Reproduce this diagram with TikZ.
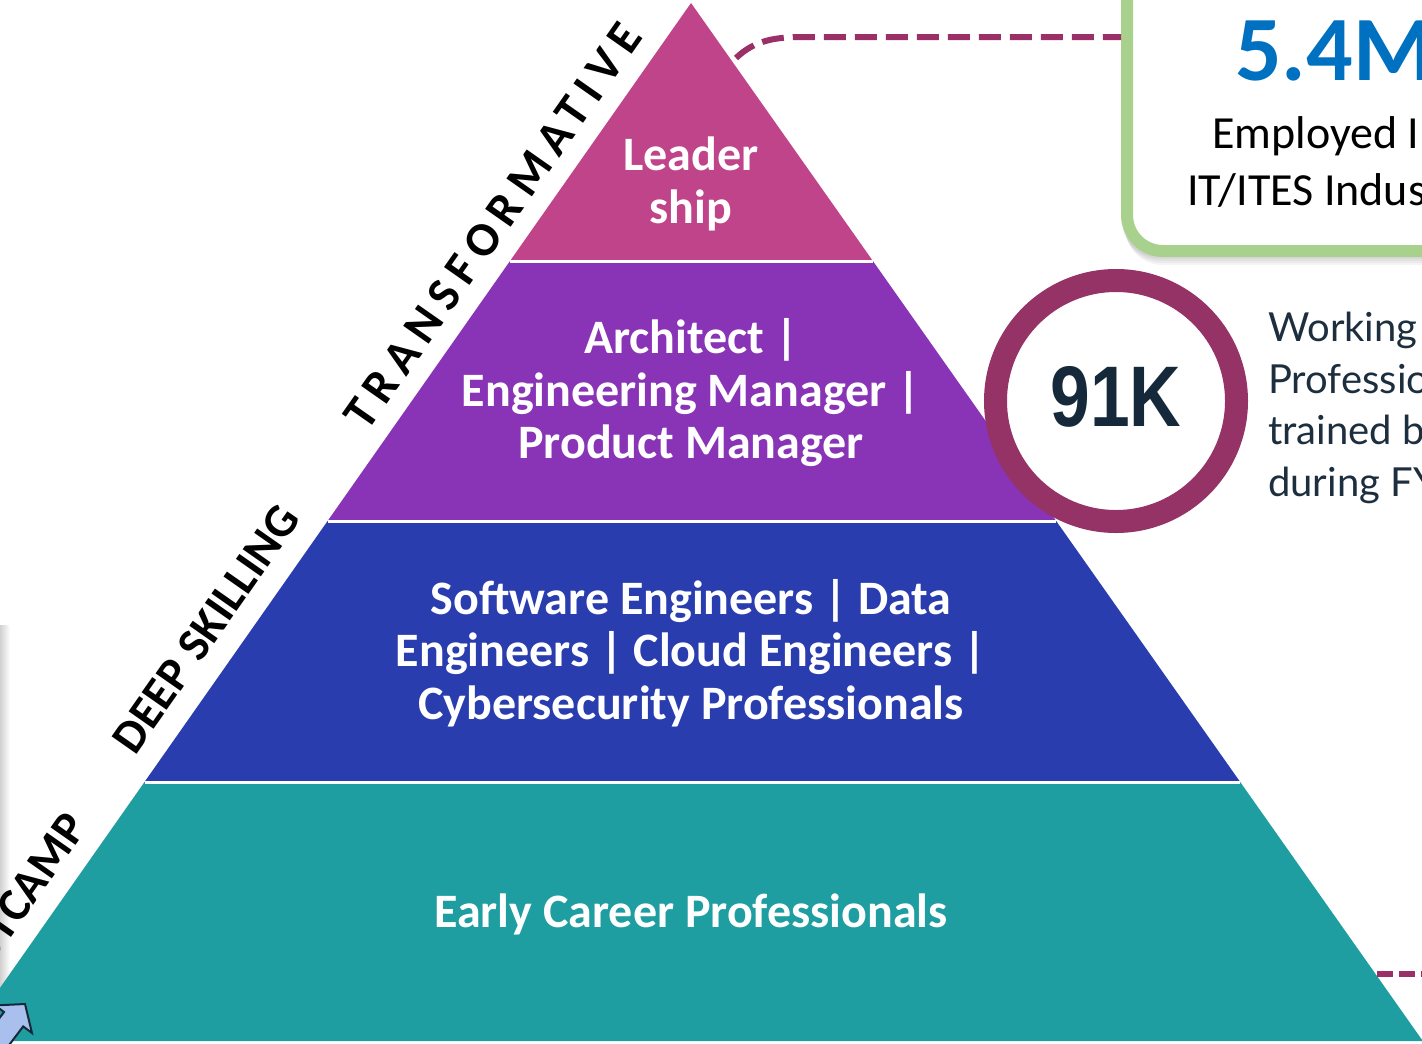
\documentclass[tikz,border=0pt]{standalone}
\usepackage{fontspec}
\setmainfont{Carlito}
\newfontfamily\widefont[LetterSpace=18]{Carlito}
\newfontfamily\edgefont[LetterSpace=1]{Carlito}
\newfontfamily\ringfont{Liberation Sans}
\newfontfamily\notefont{Lato}
\definecolor{cLead}{HTML}{C0448A}
\definecolor{cArch}{HTML}{8934B6}
\definecolor{cSoft}{HTML}{2A3DAF}
\definecolor{cEarly}{HTML}{1F9EA2}
\definecolor{cRing}{HTML}{953266}
\definecolor{cDash}{HTML}{9A3067}
\definecolor{cBox}{HTML}{A9D18E}
\definecolor{cBig}{HTML}{0070C0}
\definecolor{cNum}{HTML}{15293A}
\definecolor{cNote}{HTML}{1D2F3F}
\definecolor{cArrow}{HTML}{A9BFEE}
\begin{document}
\begin{tikzpicture}[x=1pt,y=-1pt,
  layer/.style={align=center,text=white,font=\fontsize{48}{52.5}\selectfont\bfseries},
  edgelbl/.style={rotate=55,inner sep=0pt},
  sep/.style={white,line width=3pt},
  dashline/.style={cDash,line width=6pt}]
  \useasboundingbox (0,0) rectangle (1422,1044);
  \clip (0,0) rectangle (1422,1044);
  \shade[left color=black!18,right color=white] (0,625) rectangle (10,1000);
  \coordinate (apex) at (691,3);
  \coordinate (l1) at (510,261);   \coordinate (r1) at (872.9,261);
  \coordinate (l2) at (327.6,521); \coordinate (r2) at (1056.2,521);
  \coordinate (l3) at (144.5,782); \coordinate (r3) at (1240.2,782);
  \coordinate (l4) at (-37.3,1041);\coordinate (r4) at (1422.8,1041);
  \fill[cLead] (apex) -- (l1) -- (r1) -- cycle;
  \fill[cArch] (l1) -- (l2) -- (r2) -- (r1) -- cycle;
  \fill[cSoft] (l2) -- (l3) -- (r3) -- (r2) -- cycle;
  \fill[cEarly] (l3) -- (l4) -- (r4) -- (r3) -- cycle;
  \draw[sep] (l1) -- (r1);
  \draw[sep] (l2) -- (r2);
  \draw[sep] (l3) -- (r3);
  \filldraw[fill=cArrow,draw=cNum,line width=2pt] (25,1004) -- (32,1033) -- (23.2,1026.4) -- (-6.8,1066) -- (-26,1052) -- (4,1012) -- (-4.8,1005.4) -- cycle;
  \node[layer] (lead) at (691,184) {Leader\\ship};
  \node[layer] (arch) at (691,393) {Architect |\\Engineering Manager |\\Product Manager};
  \node[layer] (soft) at (691,653) {Software Engineers | Data\\Engineers | Cloud Engineers |\\Cybersecurity Professionals};
  \node[layer] (early) at (691,914) {Early Career Professionals};
  \node[edgelbl,font=\fontsize{48}{48}\widefont\bfseries] (trans) at (493,226) {TRANSFORMATIVE};
  \node[edgelbl,font=\fontsize{47}{47}\edgefont\bfseries] (deep) at (206,629) {DEEP SKILLING};
  \node[edgelbl,anchor=east,font=\fontsize{47}{47}\edgefont\bfseries] (boot) at (76,818) {BOOTCAMP};
  \foreach \s in {2,4,...,10}
    \fill[black,opacity=0.04,rounded corners=36pt] (1121+\s/2,-40) rectangle (1500,255+\s);
  \draw[cBox,fill=white,line width=12pt,rounded corners=36pt] (1127,-40) rectangle (1500,251);
  \coordinate (dashstart) at (736,58);
  \coordinate (dashend) at (1121,37);
  \draw[dashline,dash pattern=on 22pt off 9pt] (dashstart) .. controls (755,40) and (775,37) .. (805,37) -- (dashend);
  \coordinate (lowdash) at (1377,974);
  \coordinate (lowend) at (1422,974);
  \draw[dashline,dash pattern=on 16pt off 6pt] (lowdash) -- (lowend);
  \node[anchor=base west,text=cBig,font=\fontsize{92}{92}\selectfont\bfseries,inner sep=0pt] (big) at (1235,80) {5.4M};
  \node[anchor=base west,font=\fontsize{46}{50}\selectfont,inner sep=0pt] (emp) at (1212,148) {Employed In};
  \node[anchor=base west,font=\fontsize{46}{50}\selectfont,inner sep=0pt] (ites) at (1187,205) {IT/ITES Industry};
  \node[circle,draw=cRing,fill=white,line width=23pt,minimum size=241pt,inner sep=0pt] (ring) at (1116,401) {};
  \node[text=cNum,xscale=0.83,font=\fontsize{86}{86}\ringfont\bfseries] (num) at (1116,397) {91K};
  \node[anchor=north west,align=left,text=cNote,inner sep=0pt,font=\fontsize{40}{51.5}\notefont] (note) at (1268,312) {Working\\Professionals\\trained by\\during FY24};
\end{tikzpicture}
\end{document}
